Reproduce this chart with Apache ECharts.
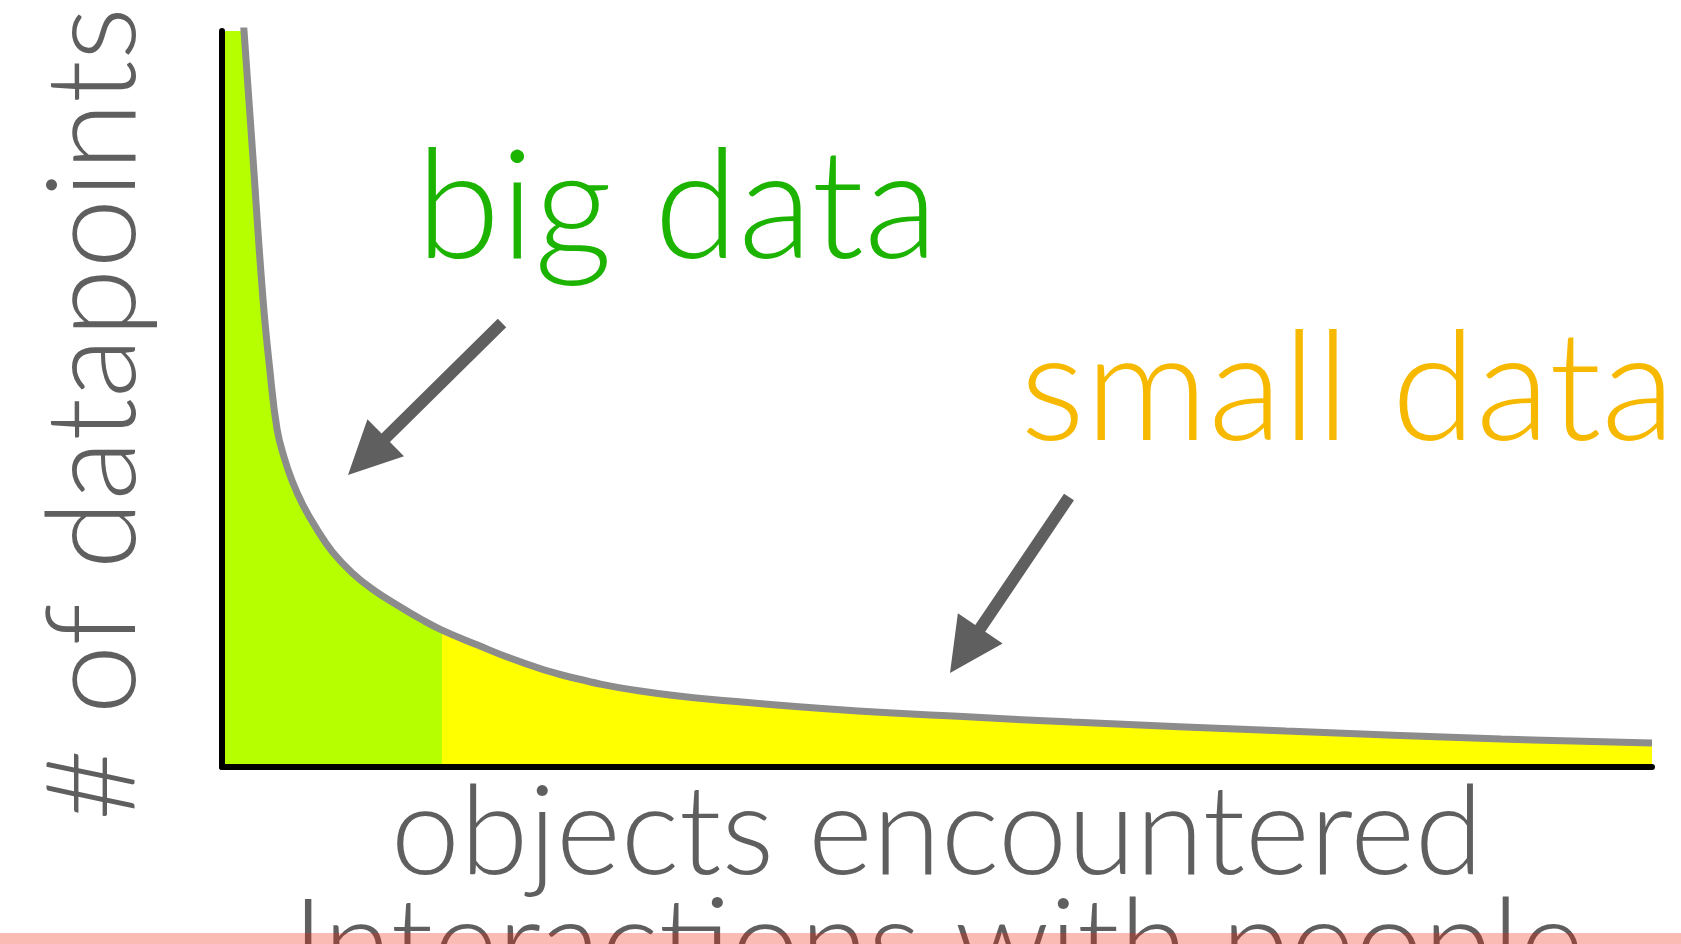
<!DOCTYPE html>
<html>
<head>
<meta charset="utf-8">
<script src="https://cdn.jsdelivr.net/npm/echarts@6/dist/echarts.min.js"></script>
<style>
html,body{margin:0;padding:0;background:#fff;}
#chart{width:1681px;height:944px;}
</style>
</head>
<body>
<div id="chart"></div>
<script>
// Curve (x: 0..100 across the axis, y: 0..100 up the axis)
const curveX = [0, 1.54, 2.10, 2.87, 3.36, 3.85, 4.34, 4.90, 5.66, 6.64, 7.69, 9.09, 10.49, 12.24, 13.99, 15.38, 17.83, 20.28, 23.78, 29.37, 36.36, 44.48, 52.45, 59.44, 74.41, 89.44, 100];
const curveY = [142, 100, 84.6, 63.5, 53.7, 45.9, 42.1, 38.9, 35.6, 32.3, 29.3, 26.4, 24.2, 22.0, 20.0, 18.6, 16.6, 14.7, 12.5, 10.3, 8.83, 7.61, 6.79, 6.11, 4.89, 3.80, 3.26];
const bigDataEnd = 15.38;   // where "big data" (green) turns into "small data" (yellow)

const axisTitleX = ['objects encountered', 'Interactions with people'];
const axisTitleY = '# of datapoints';
const labelBig = 'big data';
const labelSmall = 'small data';

const full = curveX.map((x, i) => [x, curveY[i]]);
const bigPart = full.filter(p => p[0] <= bigDataEnd);

function arrowPoints(x1, y1, x2, y2, shaftW, headLen, headW) {
  const dx = x2 - x1, dy = y2 - y1, L = Math.hypot(dx, dy);
  const ux = dx / L, uy = dy / L, nx = -uy, ny = ux;
  const bx = x2 - ux * headLen, by = y2 - uy * headLen;
  const s = shaftW / 2, h = headW / 2;
  return [
    [x1 + nx * s, y1 + ny * s],
    [bx + nx * s, by + ny * s],
    [bx + nx * h, by + ny * h],
    [x2, y2],
    [bx - nx * h, by - ny * h],
    [bx - nx * s, by - ny * s],
    [x1 - nx * s, y1 - ny * s]
  ];
}

const FONT = 'Lato';
const GRAY = '#5f5f5f';
const SM = 0.45;

const chart = echarts.init(document.getElementById('chart'));
chart.setOption({
  animation: false,
  backgroundColor: '#ffffff',
  grid: { left: 222, right: 29, top: 31, bottom: 177 },
  xAxis: {
    type: 'value', min: 0, max: 100, z: 5,
    axisLine: { show: true, lineStyle: { color: '#000', width: 6 } },
    axisTick: { show: false }, axisLabel: { show: false }, splitLine: { show: false }
  },
  yAxis: {
    type: 'value', min: 0, max: 100, z: 5,
    axisLine: { show: true, lineStyle: { color: '#000', width: 6 } },
    axisTick: { show: false }, axisLabel: { show: false }, splitLine: { show: false }
  },
  series: [
    {
      type: 'line', data: full, showSymbol: false, smooth: SM,
      lineStyle: { width: 0 }, areaStyle: { color: '#ffff00', opacity: 1 }, z: 2
    },
    {
      type: 'line', data: bigPart, showSymbol: false, smooth: SM,
      lineStyle: { width: 0 }, areaStyle: { color: '#b5ff00', opacity: 1 }, z: 3
    },
    {
      type: 'line', data: full, showSymbol: false, smooth: SM,
      lineStyle: { width: 7, color: '#8c8c8c' }, z: 4
    }
  ],
  graphic: [
    { type: 'text', x: 416, y: 209, style: { text: labelBig, font: '300 153px ' + FONT, fill: '#1cb400', align: 'left', verticalAlign: 'middle' } },
    { type: 'text', x: 1020, y: 391, style: { text: labelSmall, font: '300 153px ' + FONT, fill: '#f7b900', align: 'left', verticalAlign: 'middle' } },
    { type: 'text', x: 937, y: 834, style: { text: axisTitleX[0], font: '300 124px ' + FONT, fill: GRAY, align: 'center', verticalAlign: 'middle' } },
    { type: 'text', x: 938, y: 947, style: { text: axisTitleX[1], font: '300 124px ' + FONT, fill: GRAY, align: 'center', verticalAlign: 'middle' } },
    { type: 'text', x: 95, y: 414, rotation: Math.PI / 2, style: { text: axisTitleY, font: '300 125px ' + FONT, fill: GRAY, align: 'center', verticalAlign: 'middle' } },
    { type: 'polygon', shape: { points: arrowPoints(502, 323, 348, 475, 12, 53, 52) }, style: { fill: '#5f5f5f' } },
    { type: 'polygon', shape: { points: arrowPoints(1069, 497, 950, 673, 12, 54, 54) }, style: { fill: '#5f5f5f' } },
    { type: 'rect', z: 100, shape: { x: 0, y: 933, width: 1681, height: 11 }, style: { fill: 'rgba(235,30,5,0.3)' } }
  ]
});
</script>
</body>
</html>
